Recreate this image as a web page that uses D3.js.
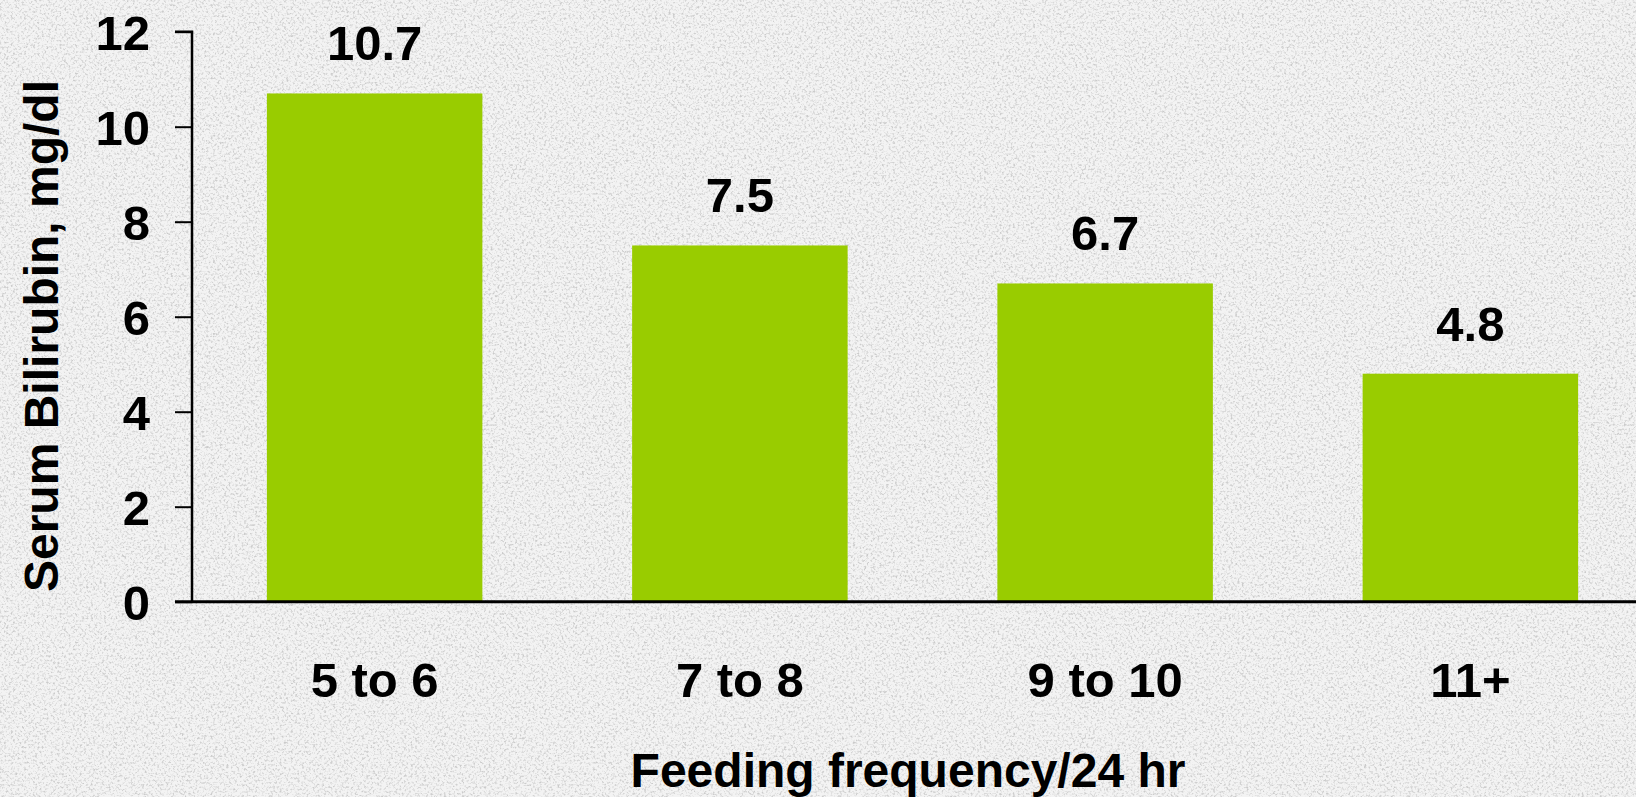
<!DOCTYPE html>
<html>
<head>
<meta charset="utf-8">
<script src="https://cdn.jsdelivr.net/npm/d3@7"></script>
<style>
  html, body { margin: 0; padding: 0; background: #efefef; }
  svg { display: block; }
  text { font-family: "Liberation Sans", Arial, sans-serif; font-weight: bold; fill: #000; }
</style>
</head>
<body>
<svg id="chart" width="1636" height="797"></svg>
<script>
const categories = ["5 to 6", "7 to 8", "9 to 10", "11+"];
const values = [10.7, 7.5, 6.7, 4.8];
const yTicks = [0, 2, 4, 6, 8, 10, 12];
const yTitle = "Serum Bilirubin, mg/dl";
const xTitle = "Feeding frequency/24 hr";

const W = 1636, H = 797;
const svg = d3.select("#chart");

// textured background
const defs = svg.append("defs");
const f = defs.append("filter").attr("id", "noise").attr("x", 0).attr("y", 0).attr("width", "100%").attr("height", "100%");
f.append("feTurbulence").attr("type", "fractalNoise").attr("baseFrequency", "0.45").attr("numOctaves", 3).attr("seed", 7).attr("result", "t");
f.append("feColorMatrix").attr("type", "matrix")
  .attr("values", "0 0 0 0 0.6  0 0 0 0 0.6  0 0 0 0 0.6  3.2 0 0 0 -1.55");
svg.append("rect").attr("width", W).attr("height", H).attr("fill", "#f3f3f3");
svg.append("rect").attr("width", W).attr("height", H).attr("filter", "url(#noise)");

const x = d3.scaleBand().domain(categories).range([192, 1653]).paddingInner(0.41).paddingOuter(0.205);
const y = d3.scaleLinear().domain([0, 12]).range([601.7, 31.7]);

// bars
svg.selectAll("rect.bar").data(values).enter().append("rect")
  .attr("class", "bar")
  .attr("x", (d, i) => x(categories[i]))
  .attr("y", d => y(d))
  .attr("width", x.bandwidth())
  .attr("height", d => y(0) - y(d))
  .attr("fill", "#99cc00");

// value labels
svg.selectAll("text.val").data(values).enter().append("text")
  .attr("class", "val")
  .attr("x", (d, i) => x(categories[i]) + x.bandwidth() / 2)
  .attr("y", d => y(d) - 33)
  .attr("text-anchor", "middle")
  .attr("font-size", 49)
  .text(d => d.toFixed(1));

// y axis
const yAxis = d3.axisLeft(y).tickValues(yTicks).tickSize(17).tickPadding(25).tickFormat(d3.format("d"));
const gy = svg.append("g").attr("transform", "translate(192,0)").call(yAxis);
gy.select(".domain").attr("stroke", "#000").attr("stroke-width", 2.5).attr("d", `M-17,${y(12)}H0V${y(0)}`);
gy.selectAll(".tick line").attr("stroke", "#000").attr("stroke-width", 2);
gy.selectAll(".tick text").attr("font-size", 49).attr("font-family", "Liberation Sans, Arial, sans-serif").attr("font-weight", "bold").attr("fill", "#000").attr("dy", "0.36em");

// x axis
const xAxis = d3.axisBottom(x).tickSize(0).tickPadding(0);
const gx = svg.append("g").attr("transform", `translate(0,${y(0)})`).call(xAxis);
gx.select(".domain").attr("stroke", "#000").attr("stroke-width", 3).attr("d", `M175,0H${W}`);
gx.selectAll(".tick text").attr("font-size", 49).attr("font-family", "Liberation Sans, Arial, sans-serif").attr("font-weight", "bold").attr("fill", "#000").attr("dy", 0).attr("y", 95);

// axis titles
svg.append("text")
  .attr("transform", `translate(58,336) rotate(-90)`)
  .attr("text-anchor", "middle")
  .attr("font-size", 48)
  .text(yTitle);
svg.append("text")
  .attr("x", 908).attr("y", 787)
  .attr("text-anchor", "middle")
  .attr("font-size", 48)
  .text(xTitle);
</script>
</body>
</html>
